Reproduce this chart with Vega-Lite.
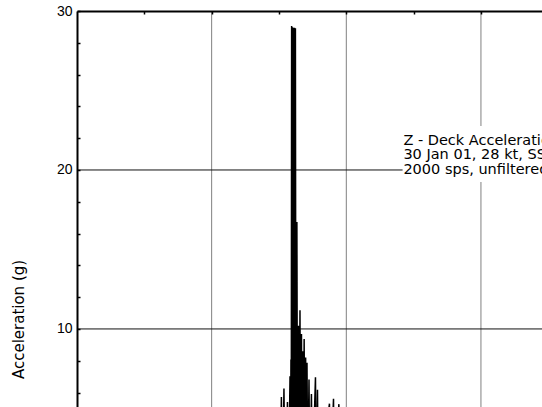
{
  "$schema": "https://vega.github.io/schema/vega-lite/v6.json",
  "width": 465,
  "height": 396,
  "autosize": {"type": "none"},
  "padding": {"left": 77, "top": 11, "right": 0, "bottom": 0},
  "background": "white",
  "config": {
    "view": {"stroke": null},
    "axis": {"labelFont": "Liberation Sans", "titleFont": "DejaVu Sans"}
  },
  "resolve": {"axis": {"y": "independent"}},
  "datasets": {
    "series": [
      {"t": 0, "g": -1}, {"t": 1.506, "g": -1},
      {"t": 1.518, "g": 5.72}, {"t": 1.526, "g": -1},
      {"t": 1.537, "g": 6.25}, {"t": 1.546, "g": -1},
      {"t": 1.556, "g": 2}, {"t": 1.563, "g": 5.4}, {"t": 1.568, "g": -1},
      {"t": 1.576, "g": 3}, {"t": 1.582, "g": 7.03}, {"t": 1.585, "g": -1},
      {"t": 1.589, "g": 8.08}, {"t": 1.591, "g": -2},
      {"t": 1.594, "g": 29.06}, {"t": 1.597, "g": -2},
      {"t": 1.6, "g": 28.98}, {"t": 1.604, "g": -2},
      {"t": 1.608, "g": 28.95}, {"t": 1.611, "g": -2},
      {"t": 1.615, "g": 28.95}, {"t": 1.619, "g": -2},
      {"t": 1.622, "g": 28.92}, {"t": 1.626, "g": -2},
      {"t": 1.633, "g": 16.73}, {"t": 1.638, "g": -2},
      {"t": 1.645, "g": 10.2}, {"t": 1.649, "g": -1},
      {"t": 1.656, "g": 11.18}, {"t": 1.661, "g": -1},
      {"t": 1.667, "g": 9.68}, {"t": 1.671, "g": 0},
      {"t": 1.676, "g": 8.6}, {"t": 1.681, "g": 0},
      {"t": 1.687, "g": 9.37}, {"t": 1.692, "g": 0},
      {"t": 1.698, "g": 8.2}, {"t": 1.703, "g": 0},
      {"t": 1.708, "g": 7.87}, {"t": 1.714, "g": 0},
      {"t": 1.723, "g": 6.82}, {"t": 1.729, "g": 0},
      {"t": 1.741, "g": 5.9}, {"t": 1.748, "g": 0},
      {"t": 1.771, "g": 6.96}, {"t": 1.777, "g": 0},
      {"t": 1.786, "g": 6.18}, {"t": 1.792, "g": 0},
      {"t": 1.875, "g": 5.3}, {"t": 1.88, "g": 0},
      {"t": 1.905, "g": 5.61}, {"t": 1.91, "g": 0},
      {"t": 1.945, "g": 5.27}, {"t": 1.95, "g": 0},
      {"t": 3.46, "g": 0}
    ],
    "vgrid": [{"t": 1}, {"t": 2}, {"t": 3}],
    "hgrid": [{"g": 10}, {"g": 20}],
    "box": [{"t0": 2.418, "t1": 3.6, "g0": 19.25, "g1": 22.77}],
    "note": [
      {"t": 2.424, "g": 21.824, "label": "Z - Deck Acceleration"},
      {"t": 2.424, "g": 20.912, "label": "30 Jan 01, 28 kt, SS4"},
      {"t": 2.424, "g": 20.0, "label": "2000 sps, unfiltered"}
    ]
  },
  "layer": [
    {
      "data": {"name": "vgrid"},
      "mark": {"type": "rule", "color": "#808080", "strokeWidth": 1},
      "encoding": {
        "x": {
          "field": "t", "type": "quantitative",
          "scale": {"domain": [0, 3.4534], "nice": false, "zero": false},
          "axis": {
            "orient": "top", "values": [0.5, 1, 1.5, 2, 2.5, 3], "labels": false, "title": null,
            "grid": false, "domainColor": "black", "domainWidth": 2, "tickColor": "black",
            "tickSize": -3, "tickWidth": 1.5, "zindex": 1
          }
        }
      }
    },
    {
      "data": {"name": "hgrid"},
      "mark": {"type": "rule", "color": "#111111", "strokeWidth": 1},
      "encoding": {
        "y": {
          "field": "g", "type": "quantitative",
          "scale": {"domain": [5.09, 30], "nice": false, "zero": false},
          "axis": {
            "orient": "left", "values": [10, 20, 30],
            "labelOverlap": false,
            "labelFontSize": 14, "labelColor": "black", "labelPadding": 5,
            "ticks": false, "domain": false, "grid": false,
            "title": "Acceleration (g)", "titleFontSize": 15, "titleFontWeight": "normal",
            "titleColor": "black", "titleX": -59, "titleY": 308, "titleAngle": -90,
            "titleAlign": "center", "titleBaseline": "middle", "zindex": 1
          }
        }
      }
    },
    {
      "data": {"name": "box"},
      "mark": {"type": "rect", "color": "white", "clip": true},
      "encoding": {
        "x": {"field": "t0", "type": "quantitative"},
        "x2": {"field": "t1"},
        "y": {"field": "g0", "type": "quantitative", "axis": null},
        "y2": {"field": "g1"}
      }
    },
    {
      "data": {"name": "note"},
      "mark": {"type": "text", "align": "left", "baseline": "middle", "font": "DejaVu Sans", "fontSize": 14.5, "color": "black", "clip": true},
      "encoding": {
        "x": {"field": "t", "type": "quantitative"},
        "y": {"field": "g", "type": "quantitative", "axis": null},
        "text": {"field": "label"}
      }
    },
    {
      "data": {"name": "series"},
      "mark": {"type": "line", "color": "black", "strokeWidth": 1.5, "clip": true},
      "encoding": {
        "x": {"field": "t", "type": "quantitative"},
        "y": {
          "field": "g", "type": "quantitative",
          "axis": {
            "orient": "left", "values": [6, 8, 10, 12, 14, 16, 18, 20, 22, 24, 26, 28, 30],
            "labels": false, "title": null, "grid": false,
            "tickSize": -3, "tickWidth": 1.5, "tickColor": "black",
            "domainColor": "black", "domainWidth": 2, "zindex": 1
          }
        }
      }
    }
  ]
}
